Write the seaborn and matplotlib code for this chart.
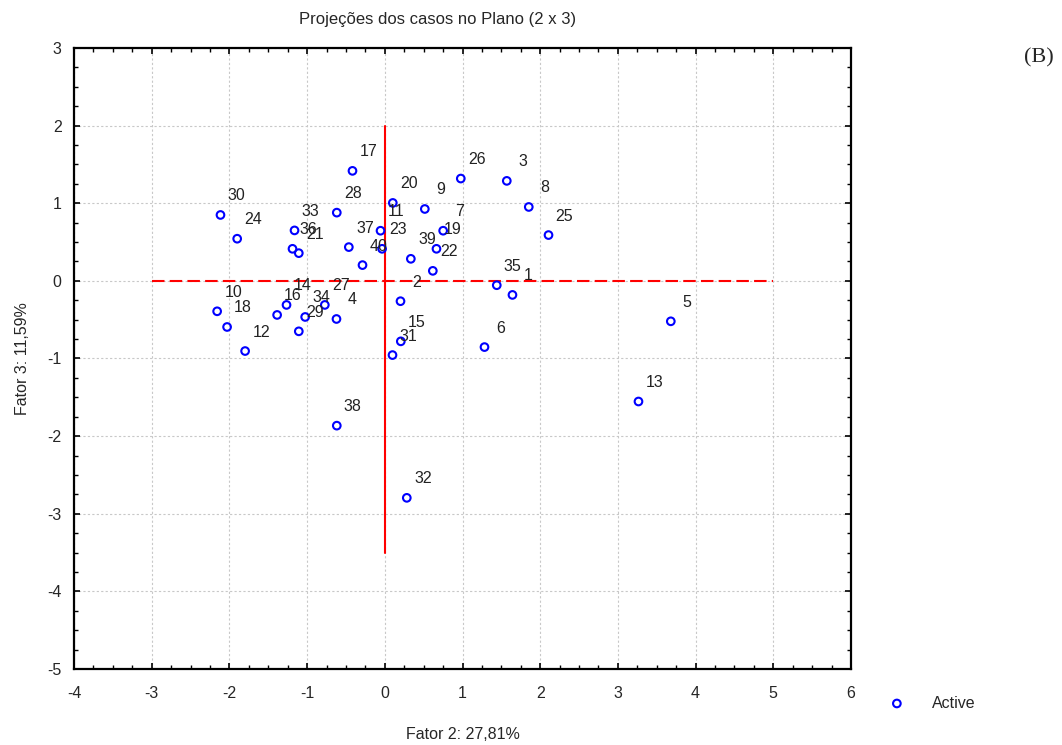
import matplotlib
matplotlib.use("Agg")
import matplotlib.pyplot as plt
from matplotlib.ticker import MultipleLocator
import seaborn as sns
import pandas as pd

# case projections on factor plane (2 x 3)
cases = [str(i) for i in range(1, 41)]
fator2 = [1.643, 0.202, 1.570, -0.622, 3.681, 1.283, 0.751, 1.853, 0.515, -2.158,
          -0.055, -1.798, 3.265, -1.265, 0.206, -1.386, -0.416, -2.030, 0.665, 0.103,
          -1.107, 0.618, -0.035, -1.900, 2.107, 0.978, -0.772, -0.618, -1.107, -2.115,
          0.099, 0.283, -1.162, -1.025, 1.441, -1.188, -0.463, -0.618, 0.335, -0.287]
fator3 = [-0.181, -0.262, 1.288, -0.491, -0.521, -0.853, 0.646, 0.952, 0.926, -0.392,
          0.646, -0.904, -1.554, -0.310, -0.779, -0.439, 1.417, -0.594, 0.413, 1.004,
          0.357, 0.129, 0.413, 0.543, 0.590, 1.318, -0.310, 0.879, -0.650, 0.849,
          -0.956, -2.795, 0.650, -0.465, -0.056, 0.413, 0.435, -1.865, 0.284, 0.203]

# reference axes drawn in red
hline_x = [-3, 5]
vline_y = [-3.5, 2]

df = pd.DataFrame({'caso': cases, 'f2': fator2, 'f3': fator3})

sns.set_style("ticks")
plt.rcParams['font.family'] = ['Liberation Sans', 'DejaVu Sans']
plt.rcParams['axes.unicode_minus'] = False

fig = plt.figure(figsize=(10.62, 7.45), dpi=100)
ax = fig.add_axes([0.0697, 0.102, 0.7316, 0.8336])

ax.grid(True, which='major', color='#c8c8c8', linestyle=(0, (2, 2)), linewidth=0.8)
ax.set_axisbelow(True)

ax.plot(hline_x, [0, 0], color='red', linestyle=(0, (6, 2.5)), linewidth=1.5, zorder=2)
ax.plot([0, 0], vline_y, color='red', linestyle='-', linewidth=1.5, zorder=2)

sns.scatterplot(data=df, x='f2', y='f3', ax=ax, marker='o', s=30,
                facecolor='none', edgecolor='blue', linewidth=1.5,
                label='Active', zorder=3)

for _, row in df.iterrows():
    ax.annotate(row['caso'], (row['f2'], row['f3']), xytext=(16, 19),
                textcoords='offset pixels', ha='center', va='center',
                fontsize=11.5, color='#222222')

ax.set_xlim(-4, 6)
ax.set_ylim(-5, 3)
ax.xaxis.set_major_locator(MultipleLocator(1))
ax.yaxis.set_major_locator(MultipleLocator(1))
ax.xaxis.set_minor_locator(MultipleLocator(0.25))
ax.yaxis.set_minor_locator(MultipleLocator(0.25))
ax.tick_params(which='both', direction='in', top=True, right=True, color='black')
ax.tick_params(which='major', length=4, width=1.2, labelsize=11.5)
ax.tick_params(which='minor', length=3, width=1.0)
ax.tick_params(axis='x', which='major', pad=12)
ax.tick_params(axis='y', which='major', pad=9)
for sp in ax.spines.values():
    sp.set_linewidth(1.6)
    sp.set_color('black')

ax.set_xlabel('Fator 2: 27,81%', fontsize=11.5, labelpad=19)
ax.set_ylabel('Fator 3: 11,59%', fontsize=11.5, labelpad=12)
ax.set_title('Projeções dos casos no Plano (2 x 3)', fontsize=12, x=0.468, pad=17)

ax.legend(loc='center left', bbox_to_anchor=(1.02, -0.055), frameon=False,
          fontsize=11.5, handletextpad=1.2, markerscale=1.0)

fig.text(0.978, 0.922, '(B)', fontsize=16, family='Liberation Serif',
         ha='center', va='center')

fig.savefig('out.png', dpi=100)
